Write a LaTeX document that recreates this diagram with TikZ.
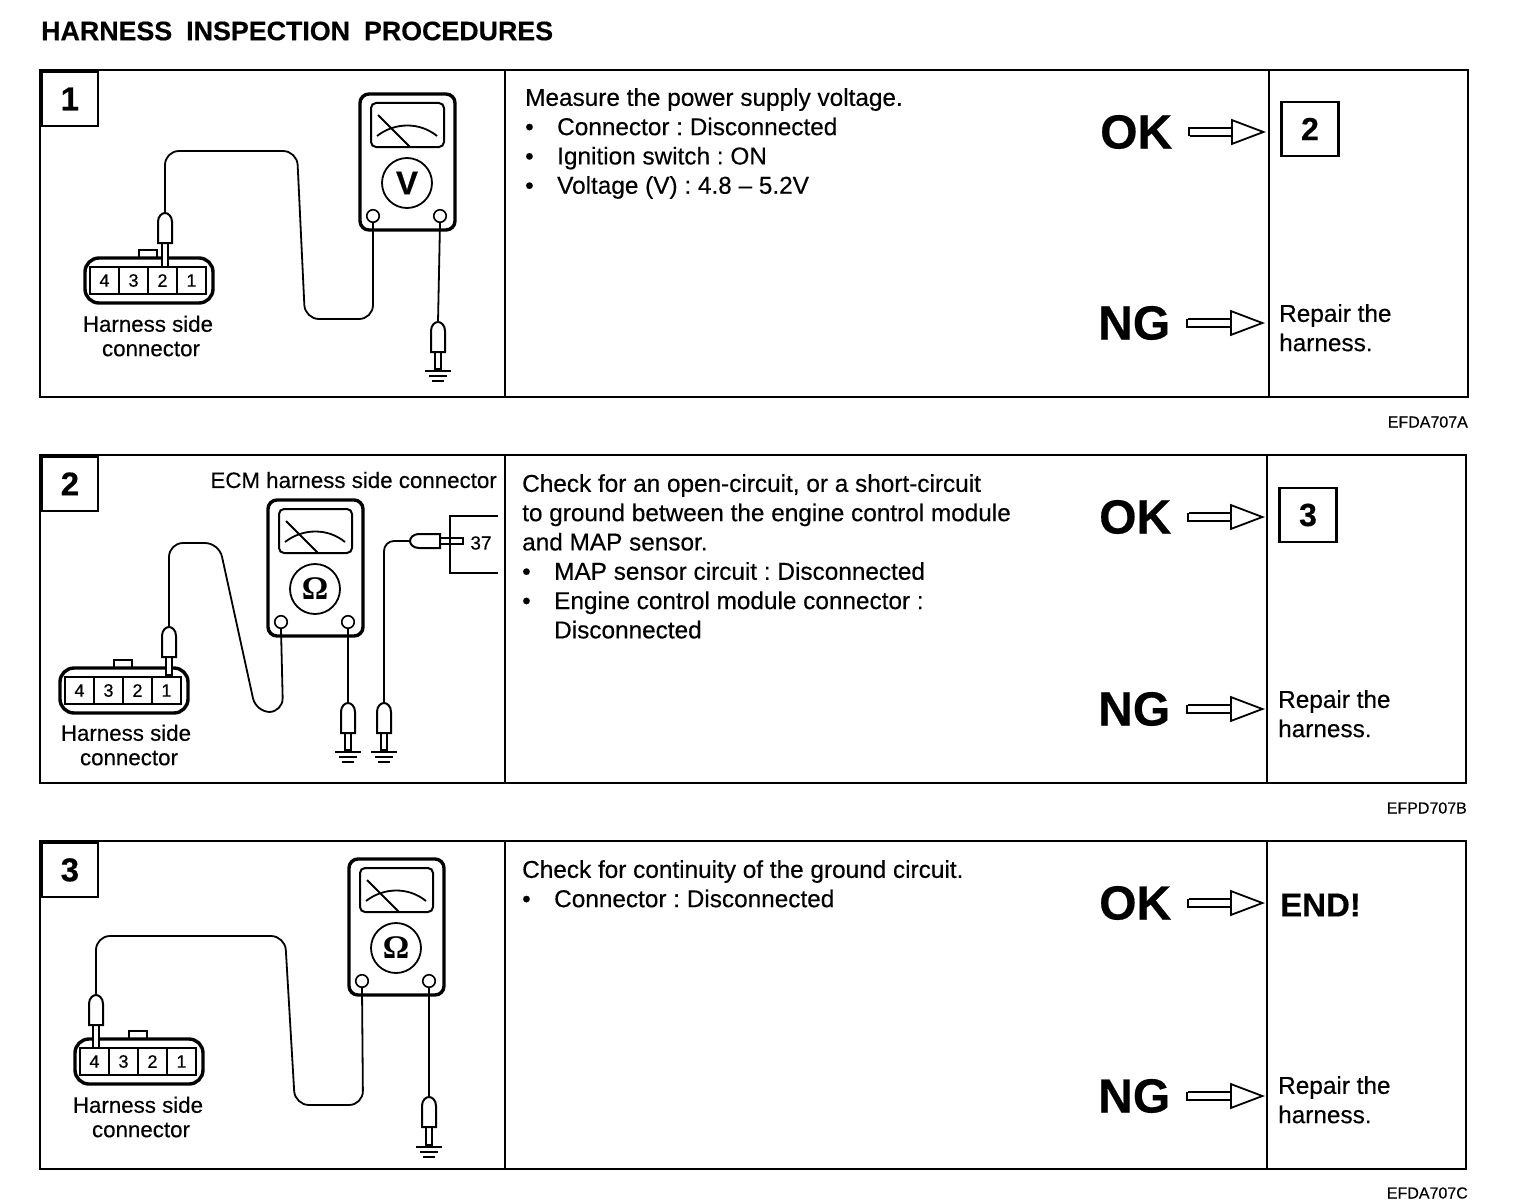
\documentclass[tikz,border=0pt]{standalone}
\usepackage{fontspec}
\setmainfont{Liberation Sans}[FakeBold=0.35]
\newfontfamily\omegafont{Liberation Serif}
\usetikzlibrary{arrows.meta}

\begin{document}
\begin{tikzpicture}[x=1pt,y=-1pt,
frame/.style={line width=2.2pt},
heading/.style={anchor=west,inner sep=0pt,font=\fontsize{26.8}{27}\selectfont\bfseries},
refcode/.style={anchor=east,inner sep=0pt,font=\fontsize{16}{16}\selectfont},
tabbox/.style={draw,line width=1.8pt,fill=white,anchor=north west,inner sep=0pt,minimum width=56pt,minimum height=54pt,font=\fontsize{33}{33}\selectfont\bfseries},
nextbox/.style={draw,line width=2.2pt,inner sep=0pt,minimum width=57pt,minimum height=54pt,font=\fontsize{32}{32}\selectfont\bfseries},
verdict/.style={anchor=west,inner sep=0pt,font=\fontsize{48}{48}\selectfont\bfseries},
body/.style={anchor=north west,inner sep=0pt,align=left,font=\fontsize{24.35}{29.3}\selectfont\frenchspacing},
small/.style={inner sep=0pt,align=center,font=\fontsize{22.3}{24.4}\selectfont},
wire/.style={line width=1.8pt,rounded corners=14pt},
arr/.style={double,double distance=5.5pt,line width=1.8pt,shorten <=16pt,
  {Bar[width=9pt,line width=1.8pt]}-{Triangle[open,length=35pt,width=26pt,line width=1.8pt]}},
term/.style={circle,draw,line width=1.6pt,fill=white,inner sep=0pt,minimum size=12.5pt},
pin/.style={draw,line width=1.6pt,inner sep=0pt,minimum width=29pt,minimum height=27pt,font=\fontsize{18}{18}\selectfont},
pics/meter/.style={code={
  \draw[line width=3.4pt,fill=white,rounded corners=9pt](0,0)rectangle(95,136);
  \draw[line width=2pt,rounded corners=5pt](11,9)rectangle(84,53);
  \draw[line width=1.8pt](18,21)--(50,53);
  \draw[line width=1.8pt](17,42)..controls(35,28)and(60,28)..(77,42);
  \node[circle,draw,line width=1.8pt,inner sep=0pt,minimum size=50pt,font=\fontsize{33}{33}\selectfont](-dial)at(47,89){#1};
  \node[term](-a)at(13,122){};
  \node[term](-b)at(80,122){};
}},
pics/harness/.style={code={
  \draw[line width=1.6pt,fill=white](54,-8)rectangle(72,0);
  \draw[line width=3.4pt,fill=white,rounded corners=14pt](0,0)rectangle(128,45);
  \node[pin](-four)at(19.5,22.5){4};
  \node[pin](-three)at(48.5,22.5){3};
  \node[pin](-two)at(77.5,22.5){2};
  \node[pin](-one)at(106.5,22.5){1};
}},
pics/probe/.style={code={
  \coordinate(-top)at(0,0);
  \coordinate(-end)at(0,#1);
  \draw[line width=1.8pt,fill=white](-3.2,29)rectangle(3.2,#1);
  \draw[line width=2pt,fill=white](-7,30)--(-7,9)..controls(-7,3)and(-3,0)..(0,0)..controls(3,0)and(7,3)..(7,9)--(7,30)--cycle;
}},
pics/ground/.style={code={
  \draw[line width=1.8pt](-13,2)--(13,2);
  \draw[line width=1.8pt](-9,7)--(9,7);
  \draw[line width=1.8pt](-6,12)--(6,12);
}}]
\useasboundingbox(0,0)rectangle(1536,1204);
\node[heading](head)at(41,31){\spaceskip=14pt\relax HARNESS INSPECTION PROCEDURES};

\draw[frame](40,70)rectangle(1468,397);
\draw[frame](505,70)--(505,397);
\draw[frame](1269,70)--(1269,397);
\node[tabbox](tab1)at(41,71){1};
\pic(m1)at(360,94){meter={\bfseries V}};
\pic(c1)at(85,258){harness};
\pic(p1)at(165,213){probe=54};
\pic(g1)at(438,322){probe=47};
\pic at(g1-end){ground};
\draw[wire](p1-top)--(165,151)--(297,151)--(305,319)--(373,319)--(m1-a.south);
\draw[line width=1.8pt](m1-b.south)--(g1-top);
\node[small](c1t)at(148,336){Harness side\\\hspace*{6pt}connector};
\node[body](t1)at(525,88){Measure the power supply voltage.\\
\makebox[32pt][l]{•}Connector : Disconnected\\
\makebox[32pt][l]{•}Ignition switch : ON\\
\makebox[32pt][l]{•}Voltage (V) : 4.8 – 5.2V};
\node[verdict](ok1)at(1100,132){OK};
\node[verdict](ng1)at(1098,323){NG};
\coordinate(ok1tip)at(1266,132);
\coordinate(ng1tip)at(1265,323);
\draw[arr](ok1.east)--(ok1tip);
\draw[arr](ng1.east)--(ng1tip);
\node[nextbox](next1)at(1310,129){2};
\node[body](r1)at(1279,304){Repair the\\harness.};
\node[refcode](ref1)at(1468,422){EFDA707A};

\draw[frame](40,455)rectangle(1466,783);
\draw[frame](505,455)--(505,783);
\draw[frame](1267,455)--(1267,783);
\node[tabbox](tab2)at(41,456){2};
\node[small,anchor=east](ecm)at(497,480){ECM harness side connector};
\pic(m2)at(268,500){meter={\omegafont\bfseries Ω}};
\pic(c2)at(60,668){harness};
\pic(p2)at(169,627){probe=48};
\pic(g2)at(348,703){probe=47};
\pic(g3)at(384,703){probe=47};
\pic at(g2-end){ground};
\pic at(g3-end){ground};
\pic[rotate=90](p3)at(410,541){probe=53};
\draw[wire](p2-top)--(169,543)--(219,543)--(256,712)--(283,712)--(m2-a.south);
\draw[line width=1.8pt](m2-b.south)--(g2-top);
\draw[wire,rounded corners=10pt](g3-top)--(384,541)--(p3-top);
\draw[line width=1.8pt](498,516)--(450,516)--(450,573)--(498,573);
\node[inner sep=0pt,font=\fontsize{19}{19}\selectfont](pin37)at(481,543){37};
\node[small](c2t)at(126,745){Harness side\\\hspace*{6pt}connector};
\node[body](t2)at(522,474){Check for an open-circuit, or a short-circuit\\
to ground between the engine control module\\
and MAP sensor.\\
\makebox[32pt][l]{•}MAP sensor circuit : Disconnected\\
\makebox[32pt][l]{•}Engine control module connector :\\
\makebox[32pt][l]{}Disconnected};
\node[verdict](ok2)at(1099,517){OK};
\node[verdict](ng2)at(1098,709){NG};
\coordinate(ok2tip)at(1265,517);
\coordinate(ng2tip)at(1265,709);
\draw[arr](ok2.east)--(ok2tip);
\draw[arr](ng2.east)--(ng2tip);
\node[nextbox](next2)at(1308,515){3};
\node[body](r2)at(1278,690){Repair the\\harness.};
\node[refcode](ref2)at(1467,808){EFPD707B};

\draw[frame](40,841)rectangle(1466,1169);
\draw[frame](505,841)--(505,1169);
\draw[frame](1267,841)--(1267,1169);
\node[tabbox](tab3)at(41,842){3};
\pic(m3)at(349,859){meter={\omegafont\bfseries Ω}};
\pic(c3)at(75,1039){harness};
\pic(p3b)at(96,995){probe=53};
\pic(g4)at(429,1097){probe=48};
\pic at(g4-end){ground};
\draw[wire](p3b-top)--(96,936)--(285,936)--(295,1105)--(363,1105)--(m3-a.south);
\draw[line width=1.8pt](m3-b.south)--(g4-top);
\node[small](c3t)at(138,1117){Harness side\\\hspace*{6pt}connector};
\node[body](t3)at(522,860){Check for continuity of the ground circuit.\\
\makebox[32pt][l]{•}Connector : Disconnected};
\node[verdict](ok3)at(1099,903){OK};
\node[verdict](ng3)at(1098,1096){NG};
\coordinate(ok3tip)at(1265,903);
\coordinate(ng3tip)at(1265,1096);
\draw[arr](ok3.east)--(ok3tip);
\draw[arr](ng3.east)--(ng3tip);
\node[inner sep=0pt,anchor=west,font=\fontsize{33}{33}\selectfont\bfseries](end3)at(1280,905){END!};
\node[body](r3)at(1278,1076){Repair the\\harness.};
\node[refcode](ref3)at(1468,1193){EFDA707C};
\end{tikzpicture}
\end{document}
